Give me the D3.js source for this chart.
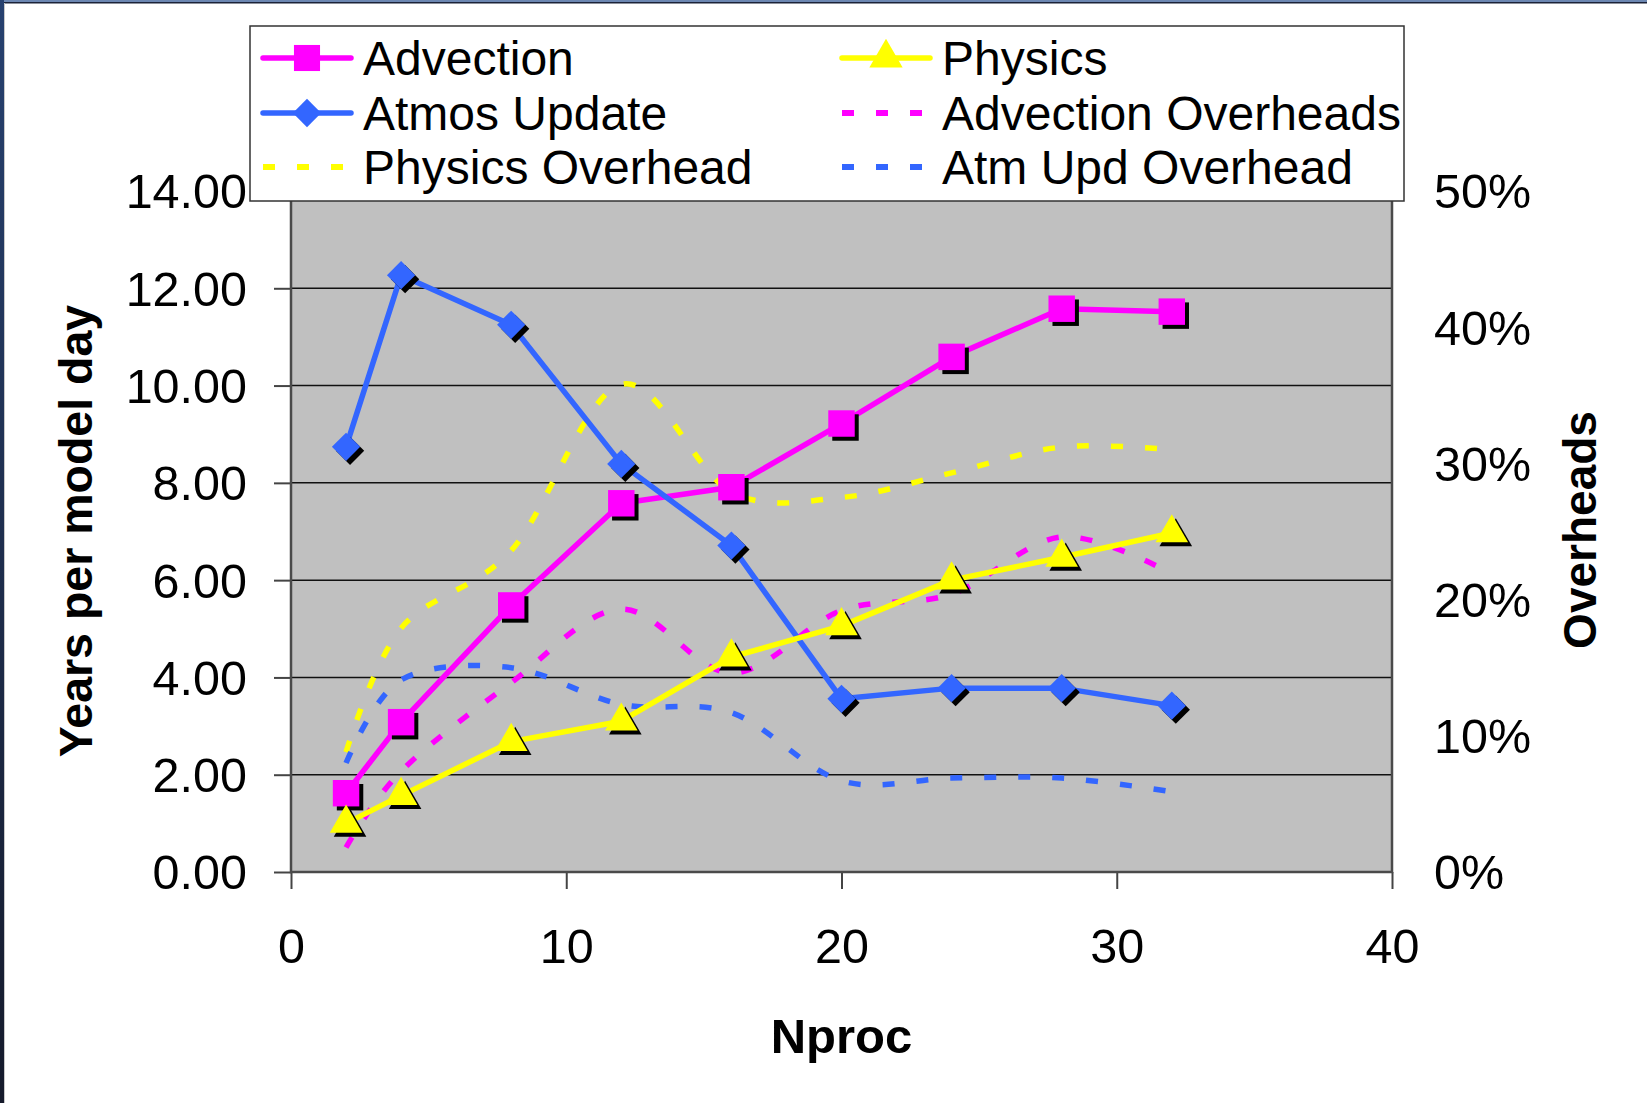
<!DOCTYPE html>
<html lang="en">
  <head>
    <meta charset="utf-8">
    <title>Years per model day vs Nproc</title>
    <script src="https://cdnjs.cloudflare.com/ajax/libs/d3/7.8.5/d3.min.js"></script>
    <style>
      html, body { margin: 0; padding: 0; background: #fff; }
      svg text { font-family: "Liberation Sans", Arial, sans-serif; fill: #000; }
    </style>
  </head>
  <body>
    <div id="chartDiv"></div>
    <script>
      // processor counts
      var nproc = [2, 4, 8, 12, 16, 20, 24, 28, 32];

      // years per model day (left axis)
      var advection   = [1.62, 3.08, 5.48, 7.58, 7.91, 9.22, 10.59, 11.58, 11.52];
      var atmosUpdate = [8.74, 12.27, 11.25, 8.39, 6.71, 3.56, 3.78, 3.78, 3.42];
      var physics     = [1.0, 1.57, 2.68, 3.10, 4.42, 5.06, 6.00, 6.47, 6.97];

      // overheads in percent (right axis)
      var physicsOverhead   = [8.8, 17.9, 23.6, 35.8, 27.9, 27.5, 29.3, 31.2, 31.0];
      var advectionOverhead = [1.8, 7.4, 13.9, 19.3, 14.6, 19.2, 20.4, 24.6, 21.9];
      var atmUpdOverhead    = [8.0, 14.1, 15.0, 12.3, 11.7, 6.7, 6.9, 6.9, 5.9];

      var leftTicks = [0, 2, 4, 6, 8, 10, 12, 14];
      var rightTicks = [0, 10, 20, 30, 40, 50];
      var xTicks = [0, 10, 20, 30, 40];

      var W = 1647, H = 1103;
      var plotL = 291, plotR = 1392, plotT = 191, plotB = 872;

      var magenta = "#ff00ff", blue = "#3366ff", yellow = "#ffff00";

      var svg = d3.select("#chartDiv")
        .append("svg")
        .attr("width", W)
        .attr("height", H);

      // window frame edges
      var defs = svg.append("defs");
      var gLeft = defs.append("linearGradient").attr("id", "leftEdge")
        .attr("x1", 0).attr("y1", 0).attr("x2", 0).attr("y2", 1);
      gLeft.append("stop").attr("offset", "0%").attr("stop-color", "#27416f");
      gLeft.append("stop").attr("offset", "100%").attr("stop-color", "#151a2b");
      svg.append("rect").attr("x", 0).attr("y", 0).attr("width", W).attr("height", 2).attr("fill", "#6c87b2");
      svg.append("rect").attr("x", 0).attr("y", 2).attr("width", W).attr("height", 1.5).attr("fill", "#1b2238");
      svg.append("rect").attr("x", 0).attr("y", 0).attr("width", 4).attr("height", H).attr("fill", "url(#leftEdge)");
      svg.append("rect").attr("x", 4).attr("y", 3).attr("width", 1).attr("height", H).attr("fill", "#c8c8c8");

      var x = d3.scaleLinear().domain([0, 40]).range([plotL, plotR]);
      var y = d3.scaleLinear().domain([0, 14]).range([plotB, plotT]);
      var y2 = d3.scaleLinear().domain([0, 50]).range([plotB, plotT]);

      // plot area
      svg.append("rect")
        .attr("x", plotL).attr("y", plotT)
        .attr("width", plotR - plotL).attr("height", plotB - plotT)
        .attr("fill", "#c0c0c0");

      // horizontal grid
      svg.append("g")
        .selectAll("line")
        .data(leftTicks.slice(1))
        .enter()
        .append("line")
        .attr("x1", plotL).attr("x2", plotR)
        .attr("y1", function(d) { return y(d); })
        .attr("y2", function(d) { return y(d); })
        .attr("stroke", "#111")
        .attr("stroke-width", 1.5);

      // left axis
      var yAxis = d3.axisLeft(y)
        .tickValues(leftTicks)
        .tickSize(17)
        .tickPadding(27)
        .tickFormat(d3.format(".2f"));
      var gy = svg.append("g")
        .attr("transform", "translate(" + plotL + ",0)")
        .call(yAxis);
      gy.select(".domain").remove();
      gy.selectAll(".tick line").attr("stroke", "#444").attr("stroke-width", 2);
      gy.selectAll(".tick text").attr("font-size", 48.5).attr("dy", "0.35em");

      // right axis
      var y2Axis = d3.axisRight(y2)
        .tickValues(rightTicks)
        .tickSize(0)
        .tickPadding(42)
        .tickFormat(function(d) { return d + "%"; });
      var gy2 = svg.append("g")
        .attr("transform", "translate(" + plotR + ",0)")
        .call(y2Axis);
      gy2.select(".domain").remove();
      gy2.selectAll(".tick text").attr("font-size", 48.5).attr("dy", "0.35em");

      // bottom axis
      var xAxis = d3.axisBottom(x)
        .tickValues(xTicks)
        .tickSize(17)
        .tickPadding(57);
      var gx = svg.append("g")
        .attr("transform", "translate(0," + plotB + ")")
        .call(xAxis);
      gx.select(".domain").remove();
      gx.selectAll(".tick line").attr("stroke", "#444").attr("stroke-width", 2);
      gx.selectAll(".tick text").attr("font-size", 48.5).attr("dy", "0.35em");

      // plot frame (left, right, bottom)
      svg.append("path")
        .attr("d", "M" + plotL + "," + plotT + "V" + plotB + "H" + plotR + "V" + plotT)
        .attr("fill", "none")
        .attr("stroke", "#4a4a4a")
        .attr("stroke-width", 2.5);

      // overhead curves
      var overheads = [
        {name: "Physics Overhead", values: physicsOverhead, color: yellow},
        {name: "Advection Overheads", values: advectionOverhead, color: magenta},
        {name: "Atm Upd Overhead", values: atmUpdOverhead, color: blue}
      ];

      var smooth = d3.line()
        .x(function(d) { return x(d[0]); })
        .y(function(d) { return y2(d[1]); })
        .curve(d3.curveCardinal.tension(0));

      svg.append("g")
        .selectAll("path")
        .data(overheads)
        .enter()
        .append("path")
        .attr("d", function(s) { return smooth(d3.zip(nproc, s.values)); })
        .attr("fill", "none")
        .attr("stroke", function(s) { return s.color; })
        .attr("stroke-width", 5.5)
        .attr("stroke-dasharray", "12,22");

      // main series
      var series = [
        {name: "Advection", values: advection, color: magenta, shape: d3.symbolSquare, size: 700, rot: 0},
        {name: "Atmos Update", values: atmosUpdate, color: blue, shape: d3.symbolSquare, size: 400, rot: 45},
        {name: "Physics", values: physics, color: yellow, shape: d3.symbolTriangle, size: 460, rot: 0}
      ];

      var straight = d3.line()
        .x(function(d) { return x(d[0]); })
        .y(function(d) { return y(d[1]); });

      var sg = svg.append("g")
        .selectAll("g")
        .data(series)
        .enter()
        .append("g");

      sg.append("path")
        .attr("d", function(s) { return straight(d3.zip(nproc, s.values)); })
        .attr("fill", "none")
        .attr("stroke", function(s) { return s.color; })
        .attr("stroke-width", 5.5)
        .attr("stroke-linejoin", "round");

      sg.each(function(s) {
        var g = d3.select(this);
        var pts = d3.zip(nproc, s.values);
        var sym = d3.symbol().type(s.shape).size(s.size);
        // shadow
        g.selectAll("path.shadow")
          .data(pts)
          .enter()
          .append("path")
          .attr("class", "shadow")
          .attr("d", sym)
          .attr("transform", function(d) {
            return "translate(" + (x(d[0]) + 4) + "," + (y(d[1]) + 4) + ") rotate(" + s.rot + ")";
          })
          .attr("fill", "#000");
        g.selectAll("path.mark")
          .data(pts)
          .enter()
          .append("path")
          .attr("class", "mark")
          .attr("d", sym)
          .attr("transform", function(d) {
            return "translate(" + x(d[0]) + "," + y(d[1]) + ") rotate(" + s.rot + ")";
          })
          .attr("fill", s.color);
      });

      // axis titles
      svg.append("text")
        .attr("x", x(20))
        .attr("y", 1036)
        .attr("dy", "0.35em")
        .attr("text-anchor", "middle")
        .attr("font-size", 49)
        .attr("font-weight", "bold")
        .text("Nproc");

      svg.append("text")
        .attr("transform", "translate(76,531) rotate(-90)")
        .attr("dy", "0.35em")
        .attr("text-anchor", "middle")
        .attr("font-size", 46.5)
        .attr("font-weight", "bold")
        .text("Years per model day");

      svg.append("text")
        .attr("transform", "translate(1580,530) rotate(-90)")
        .attr("dy", "0.35em")
        .attr("text-anchor", "middle")
        .attr("font-size", 46)
        .attr("font-weight", "bold")
        .text("Overheads");

      // legend
      var legend = svg.append("g");
      legend.append("rect")
        .attr("x", 250).attr("y", 26)
        .attr("width", 1404 - 250).attr("height", 201 - 26)
        .attr("fill", "#fff")
        .attr("stroke", "#333")
        .attr("stroke-width", 1.5);

      var legendItems = [
        {label: "Advection", color: magenta, shape: d3.symbolSquare, size: 680, rot: 0, dash: false, col: 0, row: 0},
        {label: "Physics", color: yellow, shape: d3.symbolTriangle, size: 480, rot: 0, dash: false, col: 1, row: 0},
        {label: "Atmos Update", color: blue, shape: d3.symbolSquare, size: 400, rot: 45, dash: false, col: 0, row: 1},
        {label: "Advection Overheads", color: magenta, dash: true, col: 1, row: 1},
        {label: "Physics Overhead", color: yellow, dash: true, col: 0, row: 2},
        {label: "Atm Upd Overhead", color: blue, dash: true, col: 1, row: 2}
      ];
      var colX = [263, 842];
      var rowY = [58, 113, 167];

      var li = legend.selectAll("g.item")
        .data(legendItems)
        .enter()
        .append("g")
        .attr("class", "item")
        .attr("transform", function(d) { return "translate(" + colX[d.col] + "," + rowY[d.row] + ")"; });

      li.append("line")
        .attr("x1", 0)
        .attr("x2", function(d) { return d.dash ? 80 : 88; })
        .attr("y1", 0).attr("y2", 0)
        .attr("stroke", function(d) { return d.color; })
        .attr("stroke-width", function(d) { return d.dash ? 6 : 5.5; })
        .attr("stroke-linecap", function(d) { return d.dash ? "butt" : "round"; })
        .attr("stroke-dasharray", function(d) { return d.dash ? "12,22" : null; });

      li.filter(function(d) { return !d.dash; })
        .append("path")
        .attr("d", function(d) { return d3.symbol().type(d.shape).size(d.size)(); })
        .attr("transform", function(d) { return "translate(44,0) rotate(" + d.rot + ")"; })
        .attr("fill", function(d) { return d.color; });

      li.append("text")
        .attr("x", 100)
        .attr("y", 0)
        .attr("dy", "0.35em")
        .attr("font-size", 48)
        .text(function(d) { return d.label; });
    </script>
  </body>
</html>
